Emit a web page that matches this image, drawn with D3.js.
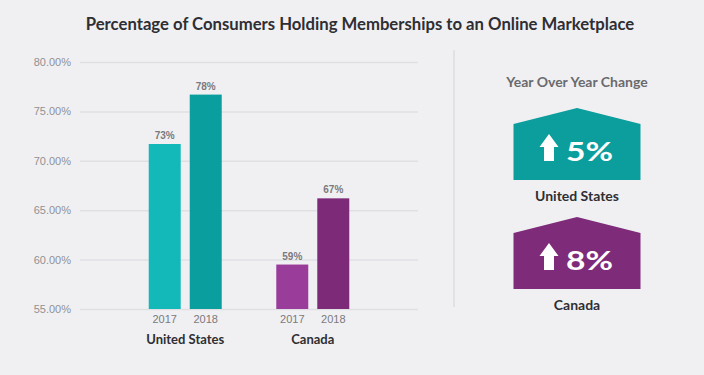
<!DOCTYPE html>
<html>
<head>
<meta charset="utf-8">
<script src="https://cdn.jsdelivr.net/npm/d3@7"></script>
<style>
  html, body { margin: 0; padding: 0; background: #f0f0f2; }
  svg { display: block; font-family: Lato, "Open Sans", sans-serif; }
</style>
</head>
<body>
<div id="chart"></div>
<script>
// data
const countries = ["United States", "Canada"];
const years = ["2017", "2018"];
const usValues = [71.7, 76.7];
const caValues = [59.5, 66.2];
const usLabels = ["73%", "78%"];
const caLabels = ["59%", "67%"];
const yTicks = [55, 60, 65, 70, 75, 80];
const yoyChange = ["5%", "8%"];

const width = 704, height = 375;
const colors = {
    "United States": ["#13b8b8", "#0a9e9e"],
    "Canada": ["#9a3d9a", "#7d2b78"]
};
const badgeColors = ["#0c9d9d", "#7e2b7a"];

const rows = [
    { country: "United States", values: usValues, labels: usLabels },
    { country: "Canada", values: caValues, labels: caLabels }
];

const svg = d3.select("#chart").append("svg")
    .attr("width", width)
    .attr("height", height);

svg.append("rect").attr("width", width).attr("height", height).attr("fill", "#f0f0f2");

// title
svg.append("text")
    .attr("x", 360).attr("y", 30)
    .attr("text-anchor", "middle")
    .style("font-size", "16.7px").style("font-weight", "bold")
    .attr("fill", "#2e2e33")
    .text("Percentage of Consumers Holding Memberships to an Online Marketplace");

// scales
const plotLeft = 80, plotRight = 418;
const yScale = d3.scaleLinear().domain([55, 80]).range([309, 62]);
const xGroup = d3.scalePoint().domain(countries).range([plotLeft, plotRight]).padding(0.825);
const xYear = d3.scaleBand().domain(years).range([-36.5, 36.5]).paddingInner(0.22);

// grid + y axis
const yAxis = svg.append("g")
    .attr("transform", `translate(${plotLeft},0)`)
    .call(d3.axisLeft(yScale).tickValues(yTicks)
        .tickSize(-(plotRight - plotLeft))
        .tickPadding(9)
        .tickFormat(d => d.toFixed(2) + "%"));
yAxis.select(".domain").remove();
yAxis.selectAll(".tick line").attr("stroke", "#e0e0e4").attr("stroke-width", 1.5);
yAxis.selectAll(".tick text")
    .attr("fill", "#909094")
    .style("font-family", "'Liberation Sans', Arial, sans-serif")
    .style("font-size", "11px");

// bars
const groups = svg.selectAll(".group")
    .data(rows)
    .join("g")
    .attr("class", "group")
    .attr("transform", d => `translate(${xGroup(d.country)},0)`);

groups.selectAll("rect")
    .data(d => d.values.map((v, i) => ({ country: d.country, year: years[i], value: v, label: d.labels[i], i })))
    .join("rect")
    .attr("x", d => xYear(d.year))
    .attr("width", xYear.bandwidth())
    .attr("y", d => yScale(d.value))
    .attr("height", d => yScale(55) - yScale(d.value))
    .attr("fill", d => colors[d.country][d.i]);

groups.selectAll(".val")
    .data(d => d.values.map((v, i) => ({ year: years[i], value: v, label: d.labels[i] })))
    .join("text")
    .attr("class", "val")
    .attr("x", d => xYear(d.year) + xYear.bandwidth() / 2)
    .attr("y", d => yScale(d.value) - 5)
    .attr("text-anchor", "middle")
    .style("font-family", "'Liberation Sans', Arial, sans-serif")
    .style("font-size", "10px").style("font-weight", "bold")
    .attr("fill", "#7a7a7e")
    .text(d => d.label);

groups.selectAll(".yr")
    .data(years)
    .join("text")
    .attr("class", "yr")
    .attr("x", d => xYear(d) + xYear.bandwidth() / 2)
    .attr("y", 323)
    .attr("text-anchor", "middle")
    .style("font-family", "'Liberation Sans', Arial, sans-serif")
    .style("font-size", "11px")
    .attr("fill", "#7a7a7e")
    .text(d => d);

groups.append("text")
    .attr("y", 344)
    .attr("text-anchor", "middle")
    .style("font-size", "13px").style("font-weight", "bold")
    .attr("fill", "#2e2e33")
    .text(d => d.country);

// separator
svg.append("line")
    .attr("x1", 454).attr("x2", 454)
    .attr("y1", 50).attr("y2", 307)
    .attr("stroke", "#e2e2e6").attr("stroke-width", 2);

// right panel
const cx = 577;
svg.append("text")
    .attr("x", cx).attr("y", 87)
    .attr("text-anchor", "middle")
    .style("font-size", "14px").style("font-weight", "bold")
    .attr("fill", "#6a6a6e")
    .text("Year Over Year Change");

const badgeTop = [108, 217];
const badges = svg.selectAll(".badge")
    .data(countries)
    .join("g")
    .attr("class", "badge")
    .attr("transform", (d, i) => `translate(${cx},${badgeTop[i]})`);

// house-shaped badge
badges.append("path")
    .attr("d", "M0,0 L63.5,16 L63.5,72 L-63.5,72 L-63.5,16 Z")
    .attr("fill", (d, i) => badgeColors[i]);

// arrow
badges.append("path")
    .attr("d", "M-28,26 L-18.5,39 L-23,39 L-23,53 L-33,53 L-33,39 L-37.5,39 Z")
    .attr("fill", "#fff");

badges.append("text")
    .attr("x", -11).attr("y", 53)
    .attr("textLength", 47)
    .attr("lengthAdjust", "spacingAndGlyphs")
    .style("font-size", "27px").style("font-weight", "bold")
    .attr("fill", "#fff")
    .text((d, i) => yoyChange[i]);

badges.append("text")
    .attr("y", 93)
    .attr("text-anchor", "middle")
    .style("font-size", "14px").style("font-weight", "bold")
    .attr("fill", "#2e2e33")
    .text(d => d);
</script>
</body>
</html>
